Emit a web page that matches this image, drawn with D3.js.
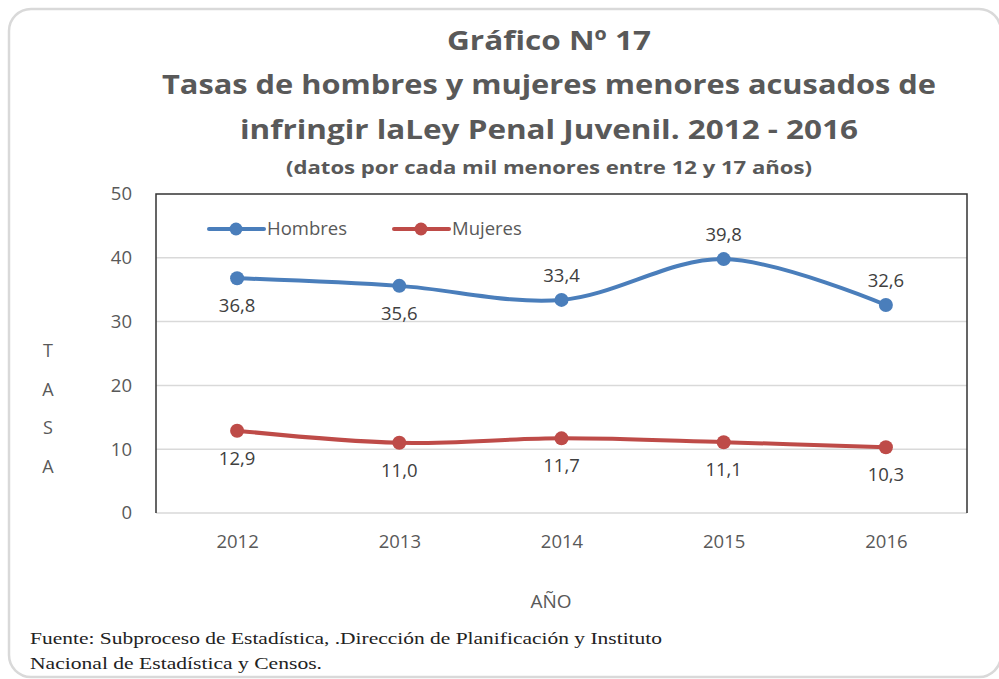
<!DOCTYPE html>
<html>
<head>
<meta charset="utf-8">
<script src="https://cdn.jsdelivr.net/npm/d3@7"></script>
<style>
  body { margin: 0; background: #fff; }
  svg { display: block; }
</style>
</head>
<body>
<div class="vis"></div>
<script>
const years = ['2012', '2013', '2014', '2015', '2016']
const hombres = [36.8, 35.6, 33.4, 39.8, 32.6]
const mujeres = [12.9, 11.0, 11.7, 11.1, 10.3]
const yTicks = [0, 10, 20, 30, 40, 50]
// donde va cada etiqueta de datos
const hombresLabelPos = ['below', 'below', 'above', 'above', 'above']
const mujeresLabelPos = ['below', 'below', 'below', 'below', 'below']

const w = 999
const h = 679
const plot = { left: 156, right: 967, top: 194, bottom: 513 }
const gray = '#595959'
const blue = '#4a7ebb'
const red = '#be4b48'
const fontSans = 'Open Sans, Noto Sans, sans-serif'

const svg = d3.select('.vis')
  .append('svg')
  .attr('width', w)
  .attr('height', h)

// marco exterior redondeado
svg.append('rect')
  .attr('x', 9).attr('y', 9)
  .attr('width', 992).attr('height', 668)
  .attr('rx', 22)
  .attr('fill', '#fff')
  .attr('stroke', '#d9d9d9')
  .attr('stroke-width', 2.5)

// titulos
const titles = [
  { text: 'Gráfico Nº 17', y: 50, size: 27, len: 204 },
  { text: 'Tasas de hombres y mujeres menores acusados de', y: 94, size: 27, len: 774 },
  { text: 'infringir laLey Penal Juvenil. 2012 - 2016', y: 139, size: 27, len: 618 },
  { text: '(datos por cada mil menores entre 12 y 17 años)', y: 174, size: 18, len: 526 }
]
svg.selectAll('.title')
  .data(titles)
  .enter().append('text')
  .attr('class', 'title')
  .attr('x', 549)
  .attr('y', d => d.y)
  .attr('text-anchor', 'middle')
  .attr('font-family', fontSans)
  .attr('font-weight', 'bold')
  .attr('font-size', d => d.size)
  .attr('fill', gray)
  .attr('textLength', d => d.len)
  .attr('lengthAdjust', 'spacingAndGlyphs')
  .text(d => d.text)

// escalas
const xScale = d3.scalePoint()
  .domain(years)
  .range([plot.left, plot.right])
  .padding(0.5)

const yScale = d3.scaleLinear()
  .domain([0, 50])
  .range([plot.bottom, plot.top])

// lineas de cuadricula
svg.append('g')
  .selectAll('line')
  .data(yTicks.filter(t => t > 0 && t < 50))
  .enter().append('line')
  .attr('x1', plot.left).attr('x2', plot.right)
  .attr('y1', d => yScale(d)).attr('y2', d => yScale(d))
  .attr('stroke', '#d9d9d9')
  .attr('stroke-width', 1.5)

// borde del area del grafico
svg.append('line')
  .attr('x1', plot.left).attr('x2', plot.right)
  .attr('y1', plot.bottom).attr('y2', plot.bottom)
  .attr('stroke', '#d9d9d9').attr('stroke-width', 1.5)
svg.append('path')
  .attr('d', `M${plot.left},${plot.bottom} V${plot.top} H${plot.right} V${plot.bottom}`)
  .attr('fill', 'none')
  .attr('stroke', '#333')
  .attr('stroke-width', 1.5)

// eje y
const yAxis = d3.axisLeft(yScale).tickValues(yTicks).tickSize(0).tickPadding(24)
svg.append('g')
  .attr('class', 'y-axis')
  .attr('transform', 'translate(' + plot.left + ',0)')
  .call(yAxis)
svg.select('.y-axis .domain').remove()
svg.select('.y-axis').selectAll('text')
  .attr('font-family', fontSans)
  .attr('font-size', 18.5)
  .attr('fill', gray)

// eje x
const xAxis = d3.axisBottom(xScale).tickSize(0).tickPadding(22)
svg.append('g')
  .attr('class', 'x-axis')
  .attr('transform', 'translate(0,' + plot.bottom + ')')
  .call(xAxis)
svg.select('.x-axis .domain').remove()
svg.select('.x-axis').selectAll('text')
  .attr('font-family', fontSans)
  .attr('font-size', 18.5)
  .attr('fill', gray)

// titulo eje y vertical (letra por letra)
svg.selectAll('.tasa')
  .data('TASA'.split(''))
  .enter().append('text')
  .attr('class', 'tasa')
  .attr('x', 48)
  .attr('y', (d, i) => 357 + i * 38.5)
  .attr('text-anchor', 'middle')
  .attr('font-family', fontSans)
  .attr('font-size', 18)
  .attr('fill', gray)
  .text(d => d)

svg.append('text')
  .attr('x', 551).attr('y', 608)
  .attr('text-anchor', 'middle')
  .attr('font-family', fontSans)
  .attr('font-size', 19)
  .attr('fill', gray)
  .text('AÑO')

// series
const series = [
  { name: 'Hombres', values: hombres, color: blue, labelPos: hombresLabelPos, legendX: 209 },
  { name: 'Mujeres', values: mujeres, color: red, labelPos: mujeresLabelPos, legendX: 394 }
]

const line = d3.line()
  .x((d, i) => xScale(years[i]))
  .y(d => yScale(d))
  .curve(d3.curveCatmullRom.alpha(0.5))

const fmt = v => d3.format('.1f')(v).replace('.', ',')

series.forEach(s => {
  svg.append('path')
    .datum(s.values)
    .attr('d', line)
    .attr('fill', 'none')
    .attr('stroke', s.color)
    .attr('stroke-width', 4)
    .attr('stroke-linecap', 'round')

  svg.append('g')
    .selectAll('circle')
    .data(s.values)
    .enter().append('circle')
    .attr('cx', (d, i) => xScale(years[i]))
    .attr('cy', d => yScale(d))
    .attr('r', 7)
    .attr('fill', s.color)

  svg.append('g')
    .selectAll('text')
    .data(s.values)
    .enter().append('text')
    .attr('x', (d, i) => xScale(years[i]))
    .attr('y', (d, i) => s.labelPos[i] === 'above' ? yScale(d) - 18 : yScale(d) + 34)
    .attr('text-anchor', 'middle')
    .attr('font-family', fontSans)
    .attr('font-size', 18.5)
    .attr('fill', '#404040')
    .text(d => fmt(d))

  // leyenda
  const ly = 229
  svg.append('line')
    .attr('x1', s.legendX).attr('x2', s.legendX + 55)
    .attr('y1', ly).attr('y2', ly)
    .attr('stroke', s.color)
    .attr('stroke-width', 4)
    .attr('stroke-linecap', 'round')
  svg.append('circle')
    .attr('cx', s.legendX + 27).attr('cy', ly)
    .attr('r', 6.5)
    .attr('fill', s.color)
  svg.append('text')
    .attr('x', s.legendX + 58).attr('y', ly + 6)
    .attr('font-family', fontSans)
    .attr('font-size', 18.5)
    .attr('fill', gray)
    .text(s.name)
})

// fuente
const footer = [
  { text: 'Fuente: Subproceso de Estadística, .Dirección de Planificación y Instituto', y: 644, len: 632 },
  { text: 'Nacional de Estadística y Censos.', y: 669, len: 292 }
]
svg.selectAll('.footer')
  .data(footer)
  .enter().append('text')
  .attr('class', 'footer')
  .attr('x', 30)
  .attr('y', d => d.y)
  .attr('font-family', 'Liberation Serif, DejaVu Serif, serif')
  .attr('font-size', 17)
  .attr('fill', '#222')
  .attr('textLength', d => d.len)
  .attr('lengthAdjust', 'spacingAndGlyphs')
  .text(d => d.text)
</script>
</body>
</html>
